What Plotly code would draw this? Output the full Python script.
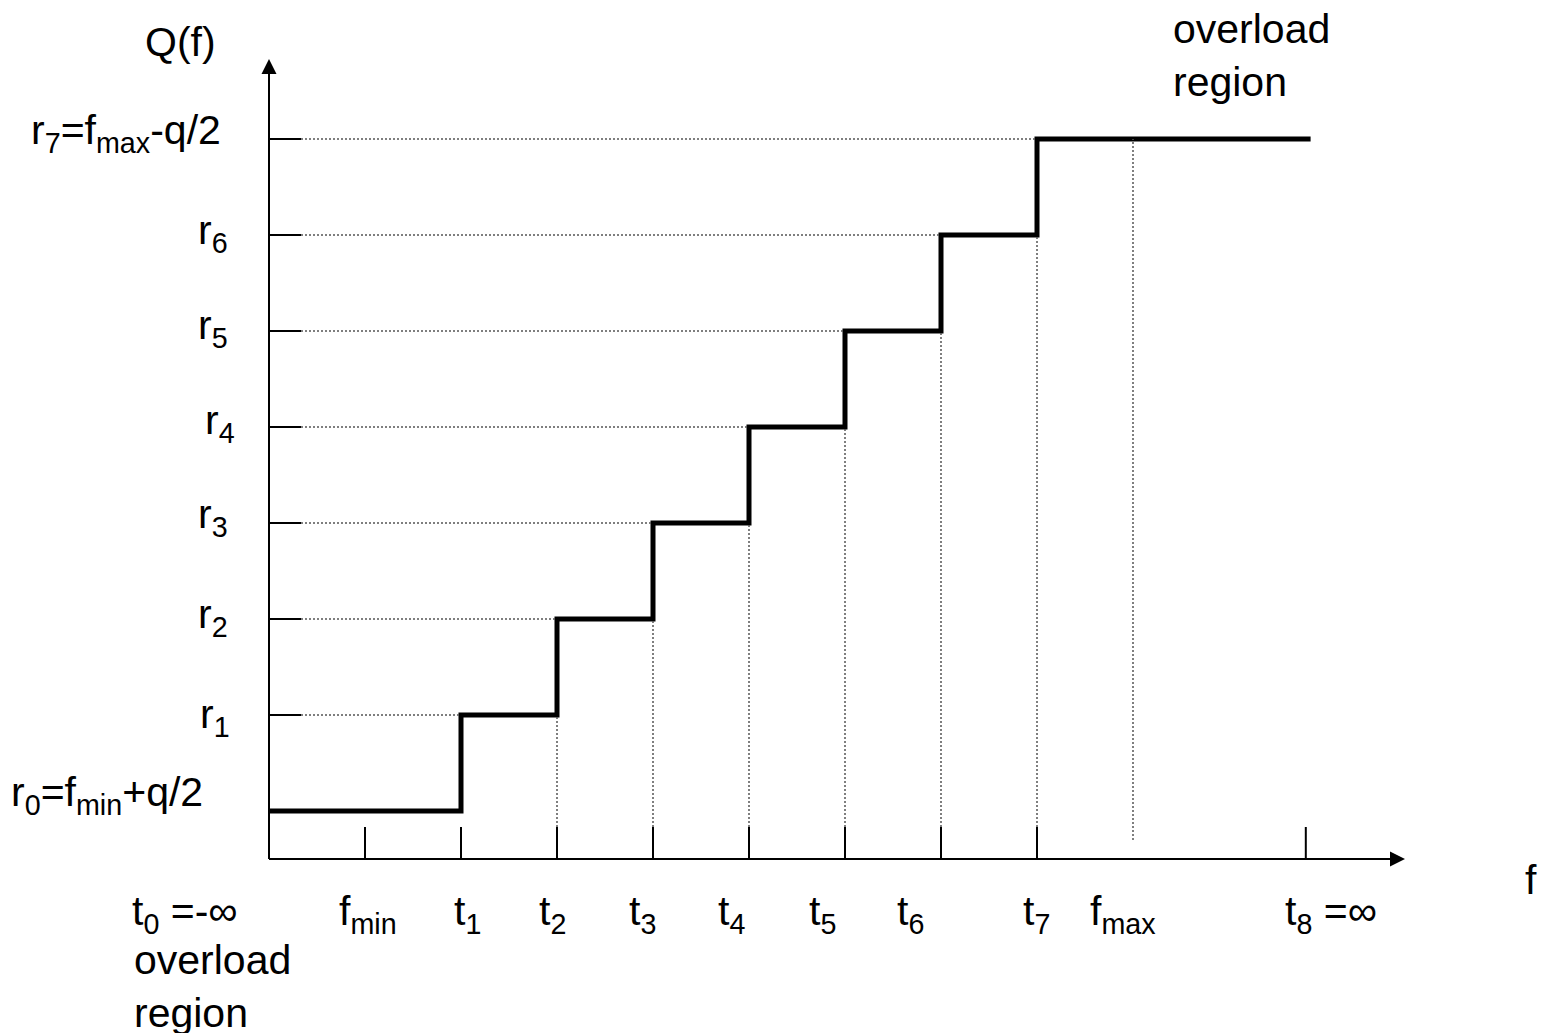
import plotly.graph_objects as go

# Uniform scalar quantizer: decision thresholds t_k and reconstruction levels r_k
thresholds = [2, 3, 4, 5, 6, 7, 8]                     # t1 .. t7
levels = [0.5, 1.5, 2.5, 3.5, 4.5, 5.5, 6.5, 7.5]      # r0 .. r7
f_min = 1
f_max = 9
t_inf = 10.8      # position where t8 = inf is marked
x_end = 10.85     # end of the last (overload) step

level_labels = [
    "r<sub>0</sub>=f<sub>min</sub>+q/2",
    "r<sub>1</sub>", "r<sub>2</sub>", "r<sub>3</sub>", "r<sub>4</sub>",
    "r<sub>5</sub>", "r<sub>6</sub>",
    "r<sub>7</sub>=f<sub>max</sub>-q/2",
]
axis_labels = [
    "f<sub>min</sub>", "t<sub>1</sub>", "t<sub>2</sub>", "t<sub>3</sub>",
    "t<sub>4</sub>", "t<sub>5</sub>", "t<sub>6</sub>", "t<sub>7</sub>",
    "f<sub>max</sub>", "t<sub>8</sub> =∞",
]
axis_label_pos = [f_min] + thresholds + [f_max, t_inf]

# ---- drawing geometry (pixels per data unit, canvas size) ----
W, H = 1544, 1033
PX = 96.0
X0, Y0 = 269, 859           # pixel position of the origin


def px(n):
    return n / PX


FONT = dict(family="Liberation Sans, Arial, sans-serif", size=41, color="black")
DOT = dict(color="#555555", width=1.5, dash="2px,2px")
tick_len = px(32)
x_tip = px(1405 - X0)
y_tip = px(Y0 - 59)
head_len, head_half = px(15), px(7.5)

fig = go.Figure()

# staircase Q(f)
fig.add_trace(go.Scatter(
    x=[0] + thresholds + [x_end],
    y=levels + [levels[-1]],
    mode="lines", line=dict(color="black", width=5, shape="hv"),
    hoverinfo="skip", showlegend=False,
))

shapes = []
# axes
shapes.append(dict(type="line", x0=0, y0=0, x1=x_tip - head_len, y1=0,
                   line=dict(color="black", width=2)))
shapes.append(dict(type="line", x0=0, y0=0, x1=0, y1=y_tip - head_len,
                   line=dict(color="black", width=2)))
# arrow heads
shapes.append(dict(type="path", fillcolor="black", line=dict(width=0),
                   path=f"M {x_tip} 0 L {x_tip - head_len} {head_half * 1.0} "
                        f"L {x_tip - head_len} {-head_half} Z"))
shapes.append(dict(type="path", fillcolor="black", line=dict(width=0),
                   path=f"M 0 {y_tip} L {-head_half} {y_tip - head_len} "
                        f"L {head_half} {y_tip - head_len} Z"))

# level ticks on the vertical axis and dotted guides to each step
for k, r in enumerate(levels):
    shapes.append(dict(type="line", x0=0, y0=r, x1=tick_len, y1=r,
                       line=dict(color="black", width=2)))
    if k >= 1:
        shapes.append(dict(type="line", x0=tick_len, y0=r, x1=thresholds[k - 1], y1=r,
                           line=DOT))

# ticks on the horizontal axis
for xv in [f_min] + thresholds + [t_inf]:
    shapes.append(dict(type="line", x0=xv, y0=0, x1=xv, y1=tick_len,
                       line=dict(color="black", width=2)))
# dotted guides from the axis up to the lower level of each riser
for k in range(1, len(thresholds)):
    shapes.append(dict(type="line", x0=thresholds[k], y0=tick_len,
                       x1=thresholds[k], y1=levels[k], line=DOT))
shapes.append(dict(type="line", x0=f_max, y0=px(19), x1=f_max, y1=levels[-1],
                   line=DOT))

annotations = []
# level labels (right aligned left of the axis)
lvl_dx = [-64, -37, -39, -39, -32, -39, -39, -46]
lvl_dy = [44, 26, 30, 34, 32, 31, 30, 34]
for lab, r, dx, dy in zip(level_labels, levels, lvl_dx, lvl_dy):
    annotations.append(dict(x=0, y=r, text=lab, xanchor="right", yanchor="top",
                            xshift=dx, yshift=dy, showarrow=False, font=FONT))

# labels under the horizontal axis
ax_dx = [-28, -9, -20, -26, -33, -38, -46, -16, -45, -23]
for lab, xv, dx in zip(axis_labels, axis_label_pos, ax_dx):
    annotations.append(dict(x=xv, y=0, text=lab, xanchor="left", yanchor="top",
                            xshift=dx, yshift=-27, showarrow=False, font=FONT))
annotations.append(dict(x=0, y=0, text="t<sub>0</sub> =-∞", xanchor="left",
                        yanchor="top", xshift=-139, yshift=-27, showarrow=False, font=FONT))
annotations.append(dict(x=0, y=0, text="overload<br>region", xanchor="left",
                        yanchor="top", xshift=-137, yshift=-76, showarrow=False,
                        font=FONT, align="left"))
annotations.append(dict(x=f_max, y=levels[-1], text="overload<br>region", xanchor="left",
                        yanchor="top", xshift=38, yshift=135, showarrow=False,
                        font=FONT, align="left"))
# axis names
annotations.append(dict(x=0, y=y_tip, text="Q(f)", xanchor="left", yanchor="top",
                        xshift=-126, yshift=42, showarrow=False, font=FONT))
annotations.append(dict(x=x_tip, y=0, text="f", xanchor="left", yanchor="top",
                        xshift=118, yshift=4, showarrow=False, font=FONT))

fig.update_layout(
    width=W, height=H, autosize=False,
    margin=dict(l=0, r=0, t=0, b=0),
    paper_bgcolor="white", plot_bgcolor="white",
    xaxis=dict(visible=False, range=[px(-X0), px(W - X0)], fixedrange=True),
    yaxis=dict(visible=False, range=[px(Y0 - H), px(Y0)], fixedrange=True),
    shapes=shapes, annotations=annotations, showlegend=False,
)

fig.write_html("out.html")
